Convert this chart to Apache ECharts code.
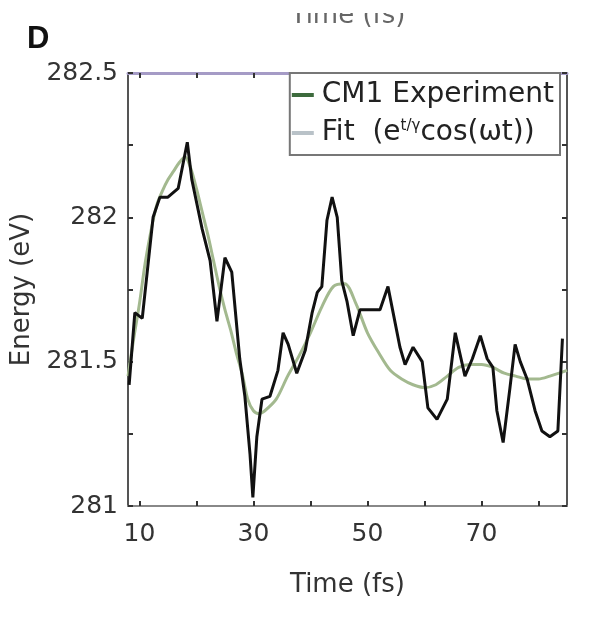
<!DOCTYPE html>
<html><head><meta charset="utf-8">
<script src="https://cdn.jsdelivr.net/npm/echarts@6/dist/echarts.min.js"></script>
<style>html,body{margin:0;padding:0;background:#fff}#c{width:603px;height:619px}</style>
</head><body><div id="c"></div>
<script>
const expTime = [8.2, 9.2, 10.5, 12.4, 13.6, 15, 16.8, 18.4, 19.2, 21, 22.4, 23.6, 25, 26.2, 27.6, 28.5, 29.4, 29.9, 30.6, 31.5, 32.9, 34.3, 35.2, 36.1, 37.6, 39.1, 40.3, 41.2, 42, 42.9, 43.8, 44.7, 45.5, 46.4, 47.5, 48.7, 50.5, 52.2, 53.6, 55.7, 56.6, 58, 59.6, 60.6, 62.2, 64, 65.4, 67.1, 68.4, 69.8, 71, 72, 72.7, 73.8, 75, 75.9, 76.8, 78, 79.4, 80.6, 82, 83.4, 84.2];
const expEnergy = [281.42, 281.67, 281.65, 282.0, 282.07, 282.07, 282.1, 282.26, 282.13, 281.96, 281.85, 281.64, 281.86, 281.81, 281.51, 281.38, 281.18, 281.03, 281.24, 281.37, 281.38, 281.47, 281.6, 281.56, 281.46, 281.54, 281.67, 281.74, 281.76, 281.99, 282.07, 282.0, 281.78, 281.71, 281.59, 281.68, 281.68, 281.68, 281.76, 281.55, 281.49, 281.55, 281.5, 281.34, 281.3, 281.37, 281.6, 281.45, 281.51, 281.59, 281.51, 281.48, 281.33, 281.22, 281.41, 281.56, 281.5, 281.44, 281.33, 281.26, 281.24, 281.26, 281.58];
const fitTime = [8,9,10,11,12,13,14,15,16,17,18,19,20,21,22,23,24,25,26,27,28,29,30,31,32,34,36,38,40,42,44,46,48,50,52,54,56,58,60,62,64,66,68,70,72,74,76,78,80,82,85];
const fitEnergy = [281.45,281.58,281.7,281.84,281.95,282.04,282.09,282.13,282.16,282.19,282.21,282.17,282.1,282.02,281.94,281.85,281.76,281.68,281.61,281.53,281.46,281.37,281.33,281.32,281.33,281.37,281.45,281.52,281.6,281.69,281.76,281.77,281.7,281.6,281.53,281.47,281.44,281.42,281.41,281.42,281.45,281.48,281.49,281.49,281.48,281.46,281.45,281.44,281.44,281.45,281.47];
const xTickValues = [10,20,30,40,50,60,70,80];
const xLabelValues = [10,30,50,70];
const yTickValues = [281,281.25,281.5,281.75,282,282.25,282.5];
const yLabelValues = [281,281.5,282,282.5];
const expName = 'CM1 Experiment';
const fitName = 'Fit';

const FONT = 'DejaVu Sans';
const chart = echarts.init(document.getElementById('c'));
const tick = {show:true, inside:true, length:5, lineStyle:{color:'#333', width:2}};
chart.setOption({
  backgroundColor:'#ffffff',
  animation:false,
  grid:{left:128, right:36, top:73, bottom:113},
  graphic:[
    {type:'text', left:27, top:24, style:{text:'D', font:'bold 31px "Liberation Sans"', fill:'#111'}},
    {type:'text', x:348, y:3, style:{text:'Time (fs)', font:'26px "DejaVu Sans"', fill:'#666', align:'center', verticalAlign:'top'}, z:1},
    {type:'rect', shape:{x:0, y:0, width:603, height:13}, style:{fill:'#fff'}, z:2}
  ],
  xAxis:[
    {type:'value', position:'bottom', min:8, max:85,
     name:'Time (fs)', nameLocation:'middle', nameGap:66,
     nameTextStyle:{fontFamily:FONT, fontSize:26, color:'#333'},
     axisLine:{lineStyle:{color:'#888', width:2}},
     axisTick:Object.assign({}, tick, {customValues:xTickValues}),
     axisLabel:{customValues:xLabelValues, fontFamily:FONT, fontSize:25, color:'#333', margin:16},
     splitLine:{show:false}},
    {type:'value', position:'top', min:8, max:85,
     axisLine:{lineStyle:{color:'#a59bc6', width:3}},
     axisTick:Object.assign({}, tick, {customValues:xTickValues}),
     axisLabel:{show:false}, splitLine:{show:false}}
  ],
  yAxis:[
    {type:'value', position:'left', min:281, max:282.5,
     name:'Energy (eV)', nameLocation:'middle', nameGap:88, nameRotate:90,
     nameTextStyle:{fontFamily:FONT, fontSize:26, color:'#333'},
     axisLine:{show:true, lineStyle:{color:'#555', width:2}},
     axisTick:Object.assign({}, tick, {customValues:yTickValues}),
     axisLabel:{customValues:yLabelValues, fontFamily:FONT, fontSize:25, color:'#333', margin:10},
     splitLine:{show:false}},
    {type:'value', position:'right', min:281, max:282.5,
     axisLine:{show:true, lineStyle:{color:'#555', width:2}},
     axisTick:Object.assign({}, tick, {customValues:yTickValues}),
     axisLabel:{show:false}, splitLine:{show:false}}
  ],
  legend:{
    orient:'vertical', right:43, top:73, padding:[8,6,8,2], itemGap:10,
    itemWidth:22, itemHeight:4,
    backgroundColor:'#fff', borderColor:'#777', borderWidth:2, borderRadius:0,
    textStyle:{fontFamily:FONT, fontSize:28, color:'#222', padding:[0,0,0,3],
      rich:{sup:{fontFamily:FONT, fontSize:15, color:'#222', verticalAlign:'top'}}},
    formatter:function(n){ return n===fitName ? 'Fit  (e{sup|t/γ}cos(ωt))' : n; },
    data:[
      {name:expName, icon:'rect', itemStyle:{color:'#3d6b3d'}},
      {name:fitName, icon:'rect', itemStyle:{color:'#b9c2c8'}}
    ]
  },
  series:[
    {name:fitName, type:'line', xAxisIndex:0, yAxisIndex:0, smooth:0.3, symbol:'none',
     lineStyle:{color:'#a3b98f', width:3}, itemStyle:{color:'#a3b98f'},
     data:fitTime.map((t,i)=>[t, fitEnergy[i]])},
    {name:expName, type:'line', xAxisIndex:0, yAxisIndex:0, symbol:'none',
     lineStyle:{color:'#111', width:3}, itemStyle:{color:'#111'},
     data:expTime.map((t,i)=>[t, expEnergy[i]])}
  ]
});
</script></body></html>
